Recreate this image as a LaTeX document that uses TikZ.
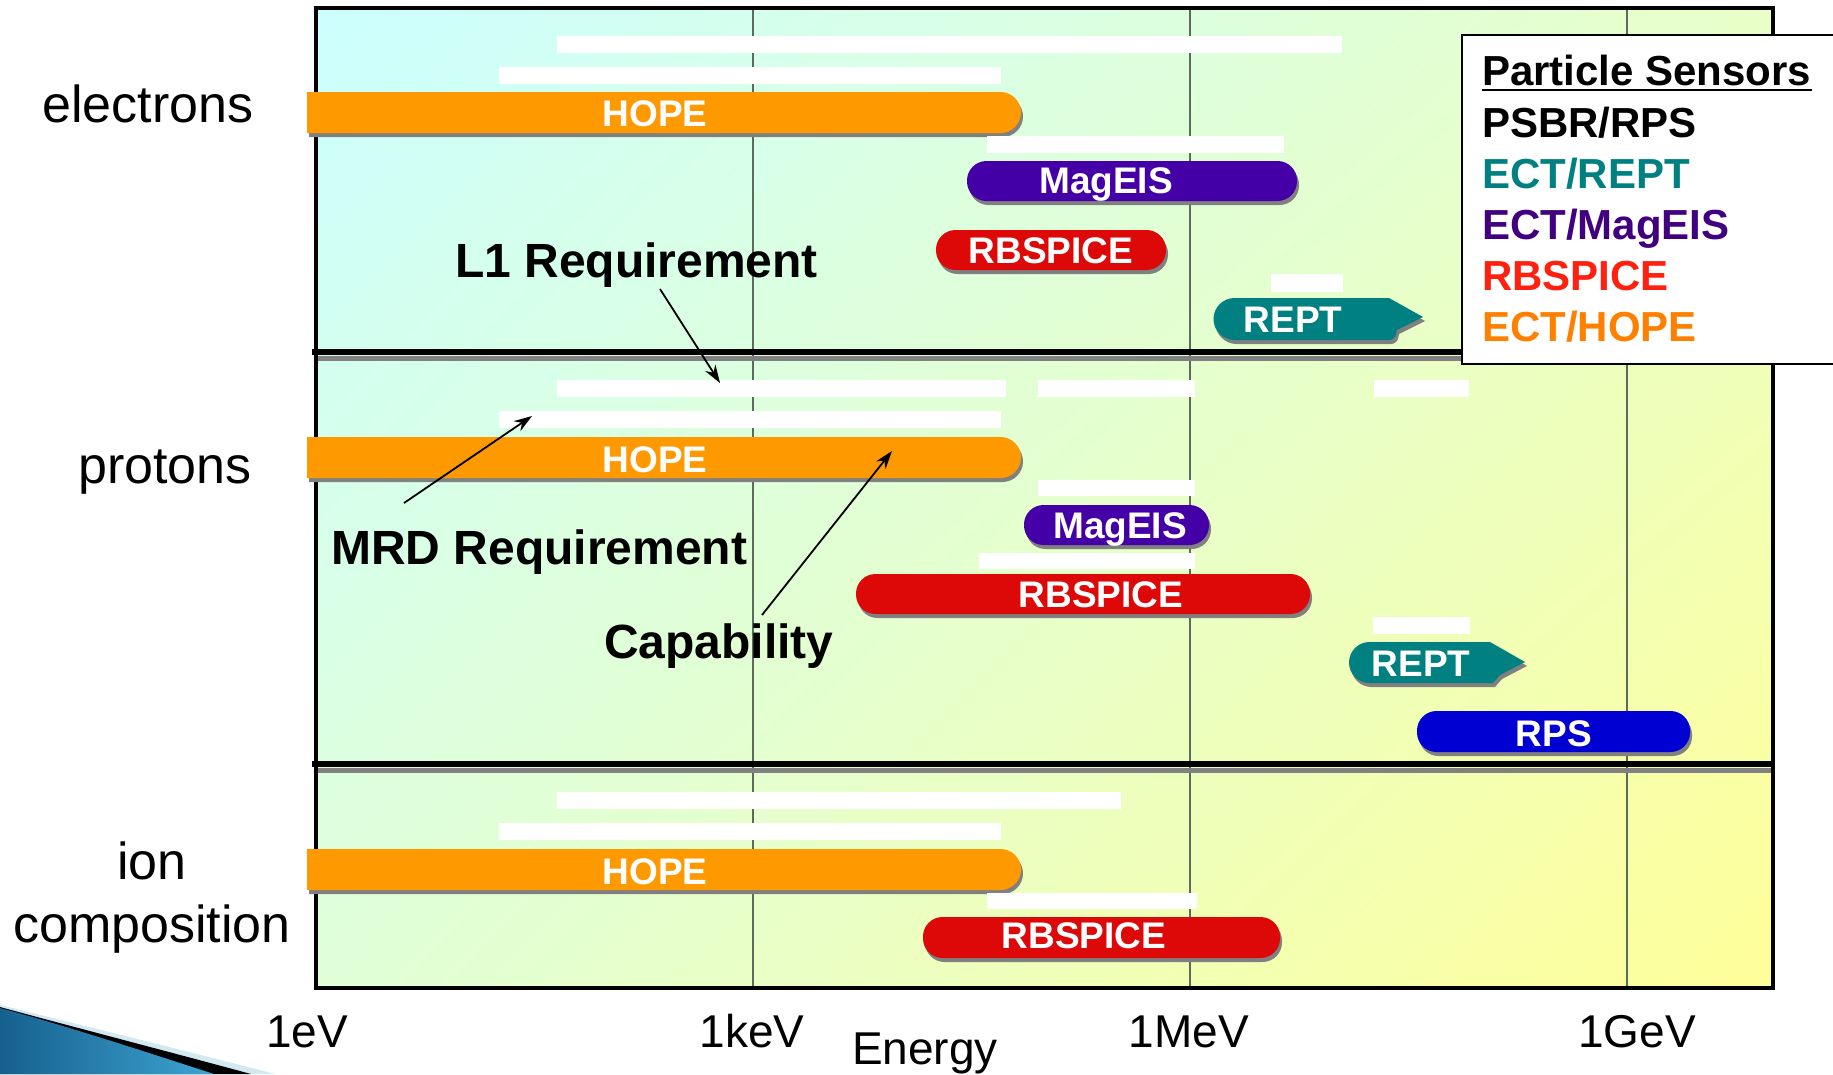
\documentclass[tikz,border=0pt]{standalone}
\usepackage{fontspec}
\setmainfont{Liberation Sans}
\usetikzlibrary{arrows.meta,shadings}
\definecolor{bgcyan}{HTML}{CCFFFF}
\definecolor{bgyellow}{HTML}{FFFF99}
\definecolor{bgmidA}{HTML}{E8FFC8}
\definecolor{bgmidB}{HTML}{E0FFD8}
\definecolor{gridgray}{HTML}{5F6A5F}
\definecolor{hopeorange}{HTML}{FF9900}
\definecolor{mageispurple}{HTML}{4400A6}
\definecolor{rbspred}{HTML}{DD0808}
\definecolor{reptteal}{HTML}{008080}
\definecolor{rpsblue}{HTML}{0000D2}
\definecolor{shadowgray}{HTML}{808080}
\definecolor{legteal}{HTML}{008080}
\definecolor{legpurple}{HTML}{400080}
\definecolor{legred}{HTML}{FF2010}
\definecolor{legorange}{HTML}{FF8000}
\definecolor{swooshdark}{HTML}{16608E}
\definecolor{swooshlight}{HTML}{3DA4D2}
\definecolor{swooshpale}{HTML}{D3E9F2}
\newcommand\pillbar[5]{%
  \fill[shadowgray,rounded corners=19.5pt,xshift=2pt,yshift=-4pt] (#2,#3) rectangle (#4,#5);
  \fill[#1,rounded corners=19.5pt] (#2,#3) rectangle (#4,#5);}
\newcommand\hopebar[2]{%
  \fill[shadowgray,xshift=2pt,yshift=-4pt] (307,#1) -- (1000.5,#1) arc[start angle=-90,end angle=90,radius=20.5] -- (307,#2) -- cycle;
  \fill[hopeorange] (307,#1) -- (1000.5,#1) arc[start angle=-90,end angle=90,radius=20.5] -- (307,#2) -- cycle;}
\newcommand\shadowedpath[2]{%
  \fill[shadowgray,xshift=2pt,yshift=-4pt] #2;
  \fill[#1] #2;}
\tikzset{
  rowlabel/.style={font=\fontsize{52}{60}\selectfont, anchor=base, inner sep=0pt},
  axlabel/.style={font=\fontsize{46}{52}\selectfont, anchor=base, inner sep=0pt},
  annot/.style={font=\bfseries\fontsize{48}{56}\selectfont, anchor=base west, inner sep=0pt},
  bartext/.style={font=\bfseries\fontsize{37}{44}\selectfont, text=white, anchor=base, inner sep=0pt},
  legtext/.style={font=\bfseries\fontsize{42}{48}\selectfont, anchor=base west, inner sep=0pt},
  whitebar/.style={fill=white},
  gridline/.style={line width=1.5pt, draw=gridgray},
  annarrow/.style={line width=1.8pt, -{Stealth[length=18pt,width=12pt]}},
}
\begin{document}
\begin{tikzpicture}[x=1pt,y=-1pt]
\useasboundingbox (0,0) rectangle (1833,1074);
\fill[white] (0,0) rectangle (1833,1074);
% background of plot
\shade[upper left=bgcyan, upper right=bgmidA, lower left=bgmidB, lower right=bgyellow] (316,8) rectangle (1773,988);
% grid lines
\draw[gridline] (753,8) -- (753,988);
\draw[gridline] (1190,8) -- (1190,988);
\draw[gridline] (1627,8) -- (1627,988);
% separators
\draw[line width=5pt, shadowgray] (314,358) -- (1775,358);
\draw[line width=6pt] (312,352) -- (1775,352);
\draw[line width=5pt, shadowgray] (314,770) -- (1775,770);
\draw[line width=6pt] (312,764) -- (1775,764);
% border
\draw[line width=4pt] (316,8) rectangle (1773,988);

% ---------- electrons ----------
\fill[whitebar] (557,36) rectangle (1342,53);
\fill[whitebar] (499,67) rectangle (1001,84);
\hopebar{92}{133}
\node[bartext] (eHOPE) at (655,126) {HOPE};
\fill[whitebar] (987,136) rectangle (1284,153);
\pillbar{mageispurple}{967}{161}{1297}{201}
\node[bartext] (eMAG) at (1106,193) {MagEIS};
\pillbar{rbspred}{936}{230}{1166}{270}
\node[bartext] (eRBS) at (1051,263) {RBSPICE};
\fill[whitebar] (1271,274) rectangle (1343,292);
\shadowedpath{reptteal}{(1234.5,298) -- (1389,298) -- (1423,317) -- (1397,330) [rounded corners=6pt] -- (1395,340) [sharp corners] -- (1234.5,340) arc[start angle=90,end angle=270,radius=21] -- cycle}
\node[bartext] (eREPT) at (1293,332) {REPT};

% ---------- protons ----------
\fill[whitebar] (557,380) rectangle (1006,397);
\fill[whitebar] (1038,380) rectangle (1195,397);
\fill[whitebar] (1374,380) rectangle (1469,397);
\fill[whitebar] (499,411) rectangle (1001,428);
\hopebar{437}{478}
\node[bartext] (pHOPE) at (655,472) {HOPE};
\fill[whitebar] (1038,480) rectangle (1195,496);
\pillbar{mageispurple}{1024}{505}{1209}{545}
\node[bartext] (pMAG) at (1120,538) {MagEIS};
\fill[whitebar] (979,553) rectangle (1195,569);
\pillbar{rbspred}{856}{574}{1310}{614}
\node[bartext] (pRBS) at (1101,607) {RBSPICE};
\fill[whitebar] (1373,617) rectangle (1470,634);
\shadowedpath{reptteal}{(1369.5,642) -- (1490,642) -- (1525,662) -- (1500,675) -- (1493,683) -- (1369.5,683) arc[start angle=90,end angle=270,radius=20.5] -- cycle}
\node[bartext] (pREPT) at (1421,676) {REPT};
\pillbar{rpsblue}{1417}{711}{1690}{752}
\node[bartext] (pRPS) at (1554,746) {RPS};

% ---------- ion composition ----------
\fill[whitebar] (557,792) rectangle (1121,809);
\fill[whitebar] (499,823) rectangle (1001,840);
\hopebar{849}{890}
\node[bartext] (iHOPE) at (655,884) {HOPE};
\fill[whitebar] (987,893) rectangle (1197,909);
\pillbar{rbspred}{923}{917}{1280}{958}
\node[bartext] (iRBS) at (1084,948) {RBSPICE};

% ---------- annotations ----------
\node[annot] (l1) at (455,277) {L1 Requirement};
\node[annot] (mrd) at (331,564) {MRD Requirement};
\node[annot] (cap) at (604,658) {Capability};
\coordinate (l1from) at (660,289);
\coordinate (l1to) at (720,383);
\coordinate (mrdfrom) at (404,503);
\coordinate (mrdto) at (532,416);
\coordinate (capfrom) at (762,615);
\coordinate (capto) at (892,451);
\draw[annarrow] (l1from) -- (l1to);
\draw[annarrow] (mrdfrom) -- (mrdto);
\draw[annarrow] (capfrom) -- (capto);

% ---------- row labels ----------
\node[rowlabel] (electrons) at (148,122) {electrons};
\node[rowlabel] (protons) at (165,483) {protons};
\node[rowlabel] (ion) at (152,879) {ion};
\node[rowlabel] (composition) at (152,942) {composition};

% ---------- axis labels ----------
\node[axlabel] (eV) at (307,1047) {1eV};
\node[axlabel] (keV) at (752,1047) {1keV};
\node[axlabel] (MeV) at (1189,1047) {1MeV};
\node[axlabel] (GeV) at (1637,1047) {1GeV};
\node[axlabel] (energy) at (925,1064) {Energy};

% ---------- legend ----------
\filldraw[fill=white, draw=black, line width=2pt] (1462,35) rectangle (1850,364);
\node[legtext] (lgtitle) at (1482,85) {Particle Sensors};
\draw[line width=2.5pt] ([yshift=-5pt]lgtitle.base west) -- ([yshift=-5pt]lgtitle.base east);
\node[legtext] (lgpsbr) at (1482,137) {PSBR/RPS};
\node[legtext, text=legteal] (lgrept) at (1482,188) {ECT/REPT};
\node[legtext, text=legpurple] (lgmag) at (1482,239) {ECT/MagEIS};
\node[legtext, text=legred] (lgrbs) at (1482,290) {RBSPICE};
\node[legtext, text=legorange] (lghope) at (1482,341) {ECT/HOPE};

% ---------- swoosh ----------
\fill[swooshpale] (0,1005) .. controls (90,1027) and (190,1052) .. (275,1074) -- (0,1074) -- cycle;
\fill[black] (0,1007) .. controls (85,1030) and (170,1052) .. (251,1074) -- (0,1074) -- cycle;
\shade[left color=swooshdark, right color=swooshlight] (0,1008) .. controls (60,1024) and (140,1050) .. (214,1074) -- (0,1074) -- cycle;
\end{tikzpicture}
\end{document}
